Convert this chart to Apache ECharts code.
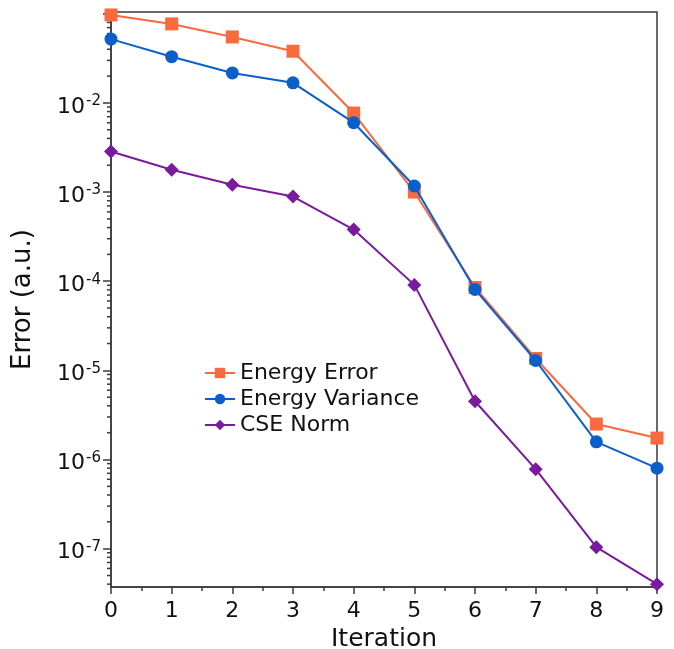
<!DOCTYPE html>
<html>
<head>
<meta charset="utf-8">
<script src="https://cdn.jsdelivr.net/npm/echarts@6/dist/echarts.min.js"></script>
<style>
  html, body { margin: 0; padding: 0; background: #fff; }
  #main { width: 674px; height: 649px; }
</style>
</head>
<body>
<div id="main"></div>
<script>
// iterations
const iterations = [0, 1, 2, 3, 4, 5, 6, 7, 8, 9]
// values
const energyError = [0.097, 0.077, 0.055, 0.038, 0.0077, 0.00100, 8.5e-5, 1.36e-5, 2.5e-6, 1.74e-6]
const energyVariance = [0.052, 0.033, 0.0217, 0.0168, 0.0060, 0.00117, 8.1e-5, 1.29e-5, 1.58e-6, 8.0e-7]
const cseNorm = [2.85e-3, 1.78e-3, 1.21e-3, 8.9e-4, 3.8e-4, 9.1e-5, 4.5e-6, 7.8e-7, 1.04e-7, 4.0e-8]
const legendNames = ['Energy Error', 'Energy Variance', 'CSE Norm']

const yMin = Math.pow(10, -7.43)
const yMax = Math.pow(10, -0.98)
const font = 'DejaVu Sans'

// minor ticks at 2..9 x 10^k
const minorVals = []
for (let e = -8; e <= -1; e++) {
  for (let m = 2; m <= 9; m++) {
    const v = m * Math.pow(10, e)
    if (v > yMin && v < yMax) minorVals.push(v)
  }
}

const toPairs = arr => arr.map((v, i) => [iterations[i], v])

const chart = echarts.init(document.getElementById('main'))
const option = {
  animation: false,
  backgroundColor: '#fff',
  textStyle: { fontFamily: font },
  grid: {
    left: 111, right: 17, top: 12, bottom: 62,
    outerBoundsMode: 'none',
    containLabel: false,
    show: true, borderColor: '#3a3a3a', borderWidth: 1.5
  },
  legend: {
    data: legendNames,
    orient: 'vertical',
    left: 199, top: 356,
    itemWidth: 30, itemHeight: 13, itemGap: 2,
    textStyle: { fontSize: 22, color: '#111', fontFamily: font, lineHeight: 24 }
  },
  xAxis: {
    type: 'value',
    min: 0, max: 9, interval: 1,
    name: 'Iteration',
    nameLocation: 'middle',
    nameGap: 36,
    nameTextStyle: { fontSize: 25, color: '#111', fontFamily: font },
    axisLine: { lineStyle: { color: '#3a3a3a', width: 1.5 } },
    axisTick: { show: true, length: 7, lineStyle: { color: '#3a3a3a', width: 1.5 } },
    minorTick: { show: true, splitNumber: 2, length: 4, lineStyle: { color: '#3a3a3a', width: 1.5 } },
    splitLine: { show: false },
    axisLabel: { fontSize: 22, color: '#111', margin: 13, fontFamily: font }
  },
  yAxis: {
    type: 'log',
    logBase: 10,
    min: yMin, max: yMax,
    name: 'Error (a.u.)',
    nameLocation: 'middle',
    nameGap: 75,
    nameTextStyle: { fontSize: 26, color: '#111', fontFamily: font },
    axisLine: { show: true, lineStyle: { color: '#3a3a3a', width: 1.5 } },
    axisTick: { show: true, length: 8, lineStyle: { color: '#3a3a3a', width: 1.5 } },
    splitLine: { show: false },
    axisLabel: {
      showMinLabel: false, showMaxLabel: false,
      margin: 10,
      padding: [8, 0, 0, 0],
      color: '#111',
      formatter(v) {
        const l = Math.log10(v)
        const e = Math.round(l)
        if (Math.abs(l - e) > 1e-6 || e > -2) return ''
        return '{b|10}{s|' + e + '}'
      },
      rich: {
        b: { fontSize: 22, color: '#111', fontFamily: font },
        s: { fontSize: 15, color: '#111', fontFamily: font, padding: [0, 0, 11, 1] }
      }
    }
  },
  series: [
    {
      name: 'Energy Error', type: 'line',
      data: toPairs(energyError),
      symbol: 'rect', symbolSize: 13,
      itemStyle: { color: '#F96A3E' },
      lineStyle: { color: '#F96A3E', width: 2 },
      z: 3
    },
    {
      name: 'Energy Variance', type: 'line',
      data: toPairs(energyVariance),
      symbol: 'circle', symbolSize: 13,
      itemStyle: { color: '#0A5FCB' },
      lineStyle: { color: '#0A5FCB', width: 2 },
      z: 4
    },
    {
      name: 'CSE Norm', type: 'line',
      data: toPairs(cseNorm),
      symbol: 'diamond', symbolSize: 14,
      itemStyle: { color: '#7A1A9E' },
      lineStyle: { color: '#7A1A9E', width: 2 },
      z: 5
    },
    {
      // minor ticks on the log axis
      name: 'minor', type: 'custom',
      silent: true, clip: false,
      data: minorVals.map(v => [0, v]),
      renderItem(params, api) {
        const p = api.coord([0, api.value(1)])
        return {
          type: 'line',
          shape: { x1: p[0] - 4, y1: p[1], x2: p[0], y2: p[1] },
          style: { stroke: '#3a3a3a', lineWidth: 1.5 }
        }
      }
    }
  ]
}
chart.setOption(option)
</script>
</body>
</html>
